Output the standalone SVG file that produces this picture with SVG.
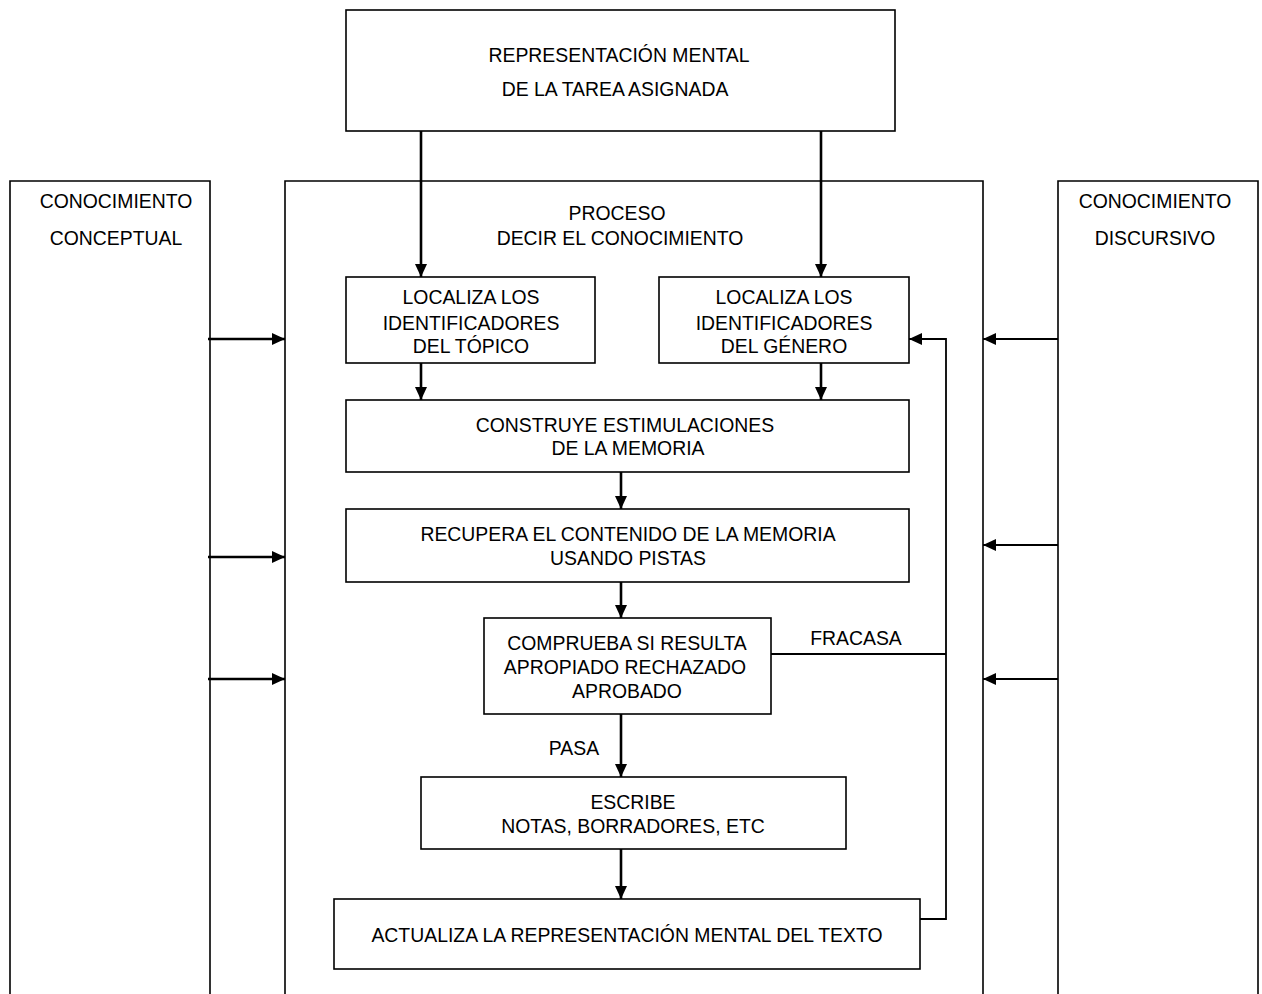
<svg xmlns="http://www.w3.org/2000/svg" width="1262" height="994" viewBox="0 0 1262 994">
  <style>
    .box { fill: #fff; stroke: #000; stroke-width: 1.6; }
    .lbl { font-family: "Liberation Sans", Arial, sans-serif; font-size: 19.4px; fill: #000; text-anchor: middle; }
    .flow { stroke: #000; stroke-width: 2.6; fill: none; }
    .thin { stroke: #000; stroke-width: 1.8; fill: none; }
  </style>
  <defs>
    <marker id="arr" markerWidth="13" markerHeight="12" refX="13" refY="6" orient="auto" markerUnits="userSpaceOnUse" viewBox="0 0 13 12">
      <path d="M0,0 L13,6 L0,12 Z" fill="#000"/>
    </marker>
    <marker id="arrL" markerWidth="13" markerHeight="12" refX="13" refY="6" orient="auto" markerUnits="userSpaceOnUse" viewBox="0 0 13 12">
      <path d="M0,0 L13,6 L0,12 Z" fill="#000"/>
    </marker>
  </defs>

  <!-- outer frames -->
  <g id="conceptual">
    <path class="box" d="M10,1000 V181 H210 V1000"/>
    <text class="lbl" x="116" y="208">CONOCIMIENTO</text>
    <text class="lbl" x="116" y="245">CONCEPTUAL</text>
  </g>
  <g id="proceso">
    <path class="box" d="M285,1000 V181 H983 V1000"/>
    <text class="lbl" x="617" y="220">PROCESO</text>
    <text class="lbl" x="620" y="245">DECIR EL CONOCIMIENTO</text>
  </g>
  <g id="discursivo">
    <path class="box" d="M1058,1000 V181 H1258 V1000"/>
    <text class="lbl" x="1155" y="208">CONOCIMIENTO</text>
    <text class="lbl" x="1155" y="245">DISCURSIVO</text>
  </g>

  <g id="tarea">
    <rect class="box" x="346" y="10" width="549" height="121"/>
    <text class="lbl" x="619" y="62">REPRESENTACIÓN MENTAL</text>
    <text class="lbl" x="615" y="96">DE LA TAREA ASIGNADA</text>
  </g>

  <g id="topico">
    <rect class="box" x="346" y="277" width="249" height="86"/>
    <text class="lbl" x="471" y="304">LOCALIZA LOS</text>
    <text class="lbl" x="471" y="330">IDENTIFICADORES</text>
    <text class="lbl" x="471" y="353">DEL TÓPICO</text>
  </g>
  <g id="genero">
    <rect class="box" x="659" y="277" width="250" height="86"/>
    <text class="lbl" x="784" y="304">LOCALIZA LOS</text>
    <text class="lbl" x="784" y="330">IDENTIFICADORES</text>
    <text class="lbl" x="784" y="353">DEL GÉNERO</text>
  </g>
  <g id="construye">
    <rect class="box" x="346" y="400" width="563" height="72"/>
    <text class="lbl" x="625" y="432">CONSTRUYE ESTIMULACIONES</text>
    <text class="lbl" x="628" y="455">DE LA MEMORIA</text>
  </g>
  <g id="recupera">
    <rect class="box" x="346" y="509" width="563" height="73"/>
    <text class="lbl" x="628" y="541">RECUPERA EL CONTENIDO DE LA MEMORIA</text>
    <text class="lbl" x="628" y="565">USANDO PISTAS</text>
  </g>
  <g id="comprueba">
    <rect class="box" x="484" y="618" width="287" height="96"/>
    <text class="lbl" x="627" y="650">COMPRUEBA SI RESULTA</text>
    <text class="lbl" x="625" y="674">APROPIADO RECHAZADO</text>
    <text class="lbl" x="627" y="698">APROBADO</text>
  </g>
  <g id="escribe">
    <rect class="box" x="421" y="777" width="425" height="72"/>
    <text class="lbl" x="633" y="809">ESCRIBE</text>
    <text class="lbl" x="633" y="833">NOTAS, BORRADORES, ETC</text>
  </g>
  <g id="actualiza">
    <rect class="box" x="334" y="899" width="586" height="70"/>
    <text class="lbl" x="627" y="942">ACTUALIZA LA REPRESENTACIÓN MENTAL DEL TEXTO</text>
  </g>

  <g id="connectors">
    <line class="flow" x1="421" y1="131" x2="421" y2="277" marker-end="url(#arr)"/>
    <line class="flow" x1="821" y1="131" x2="821" y2="277" marker-end="url(#arr)"/>
    <line class="flow" x1="421" y1="363" x2="421" y2="400" marker-end="url(#arr)"/>
    <line class="flow" x1="821" y1="363" x2="821" y2="400" marker-end="url(#arr)"/>
    <line class="flow" x1="621" y1="472" x2="621" y2="509" marker-end="url(#arr)"/>
    <line class="flow" x1="621" y1="582" x2="621" y2="618" marker-end="url(#arr)"/>
    <line class="flow" x1="621" y1="714" x2="621" y2="777" marker-end="url(#arr)"/>
    <line class="flow" x1="621" y1="849" x2="621" y2="899" marker-end="url(#arr)"/>
    <!-- feedback loop -->
    <polyline class="thin" points="771,654 946,654"/>
    <polyline class="thin" points="920,919 946,919 946,339 909,339" marker-end="url(#arr)"/>
    <text class="lbl" x="856" y="645">FRACASA</text>
    <text class="lbl" x="574" y="755">PASA</text>
    <!-- conceptual knowledge into the process -->
    <line class="flow" x1="208" y1="339" x2="285" y2="339" stroke-width="3.4" marker-end="url(#arrL)"/>
    <line class="flow" x1="208" y1="557" x2="285" y2="557" stroke-width="3.4" marker-end="url(#arrL)"/>
    <line class="flow" x1="208" y1="679" x2="285" y2="679" stroke-width="3.4" marker-end="url(#arrL)"/>
    <!-- discursive knowledge into the process -->
    <line class="thin" x1="1058" y1="339" x2="983" y2="339" marker-end="url(#arr)"/>
    <line class="thin" x1="1058" y1="545" x2="983" y2="545" marker-end="url(#arr)"/>
    <line class="thin" x1="1058" y1="679" x2="983" y2="679" marker-end="url(#arr)"/>
  </g>
</svg>
